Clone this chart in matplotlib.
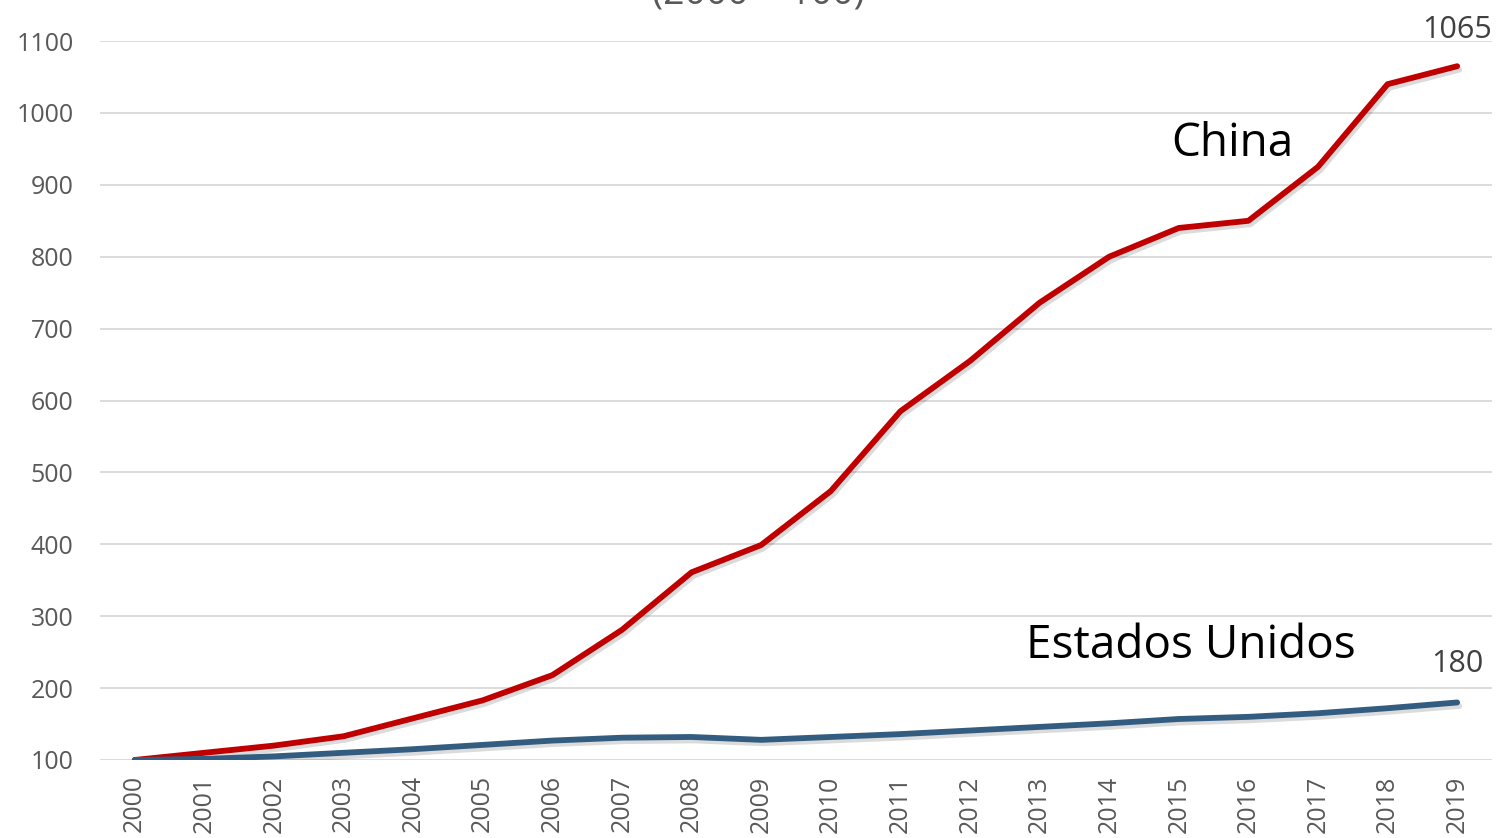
import matplotlib
matplotlib.use("Agg")
import matplotlib.pyplot as plt
import matplotlib.patheffects as pe

years = [str(y) for y in range(2000, 2020)]
china = [100, 110, 120, 133, 158, 183, 218, 281, 361, 399,
         474, 585, 655, 736, 800, 840, 850, 925, 1040, 1065]
usa = [100, 101.5, 105, 110, 115, 121, 127, 131, 132, 128,
       132, 136, 141, 146, 151, 157, 160, 165, 172, 180]
yticks = list(range(100, 1101, 100))

plt.rcParams['font.family'] = ['Open Sans', 'DejaVu Sans']

fig = plt.figure(figsize=(14.96, 8.38), dpi=100)
ax = fig.add_axes([0.0668, 0.0931, 0.9305, 0.8579])

# soft drop shadow under each line
shadow = [pe.SimpleLineShadow(offset=(1.5, -2.5), alpha=0.14, shadow_color='black'),
          pe.Normal()]
x = list(range(len(years)))
ax.plot(x, china, color='#C00000', lw=4.2, solid_capstyle='round',
        solid_joinstyle='round', path_effects=shadow, zorder=3)
ax.plot(x, usa, color='#335D80', lw=4.2, solid_capstyle='round',
        solid_joinstyle='round', path_effects=shadow, zorder=3)

ax.set_xlim(-0.5, len(years) - 0.5)
ax.set_ylim(100, 1100)
ax.set_yticks(yticks)
ax.set_xticks(x)
ax.set_xticklabels(years, rotation=90)
ax.tick_params(axis='both', length=0, labelsize=18, labelcolor='#595959')
ax.tick_params(axis='y', pad=19)
ax.tick_params(axis='x', pad=11)
ax.grid(axis='y', color='#d9d9d9', lw=1.3)
ax.set_axisbelow(True)
for s in ax.spines.values():
    s.set_visible(False)

ax.text(x[-1], china[-1] + 29, str(china[-1]), ha='center', va='bottom',
        fontsize=22, color='#404040', clip_on=False)
ax.text(x[-1], usa[-1] + 32, str(usa[-1]), ha='center', va='bottom',
        fontsize=22, color='#404040', clip_on=False)
ax.text(15.77, 957, 'China', ha='center', va='center', fontsize=33, color='black')
ax.text(15.18, 259, 'Estados Unidos', ha='center', va='center', fontsize=33,
        color='black')

fig.text(0.507, 0.985, '(2000 = 100)', ha='center', va='bottom', fontsize=27,
         color='#595959')

fig.savefig('out.png', dpi=100)
